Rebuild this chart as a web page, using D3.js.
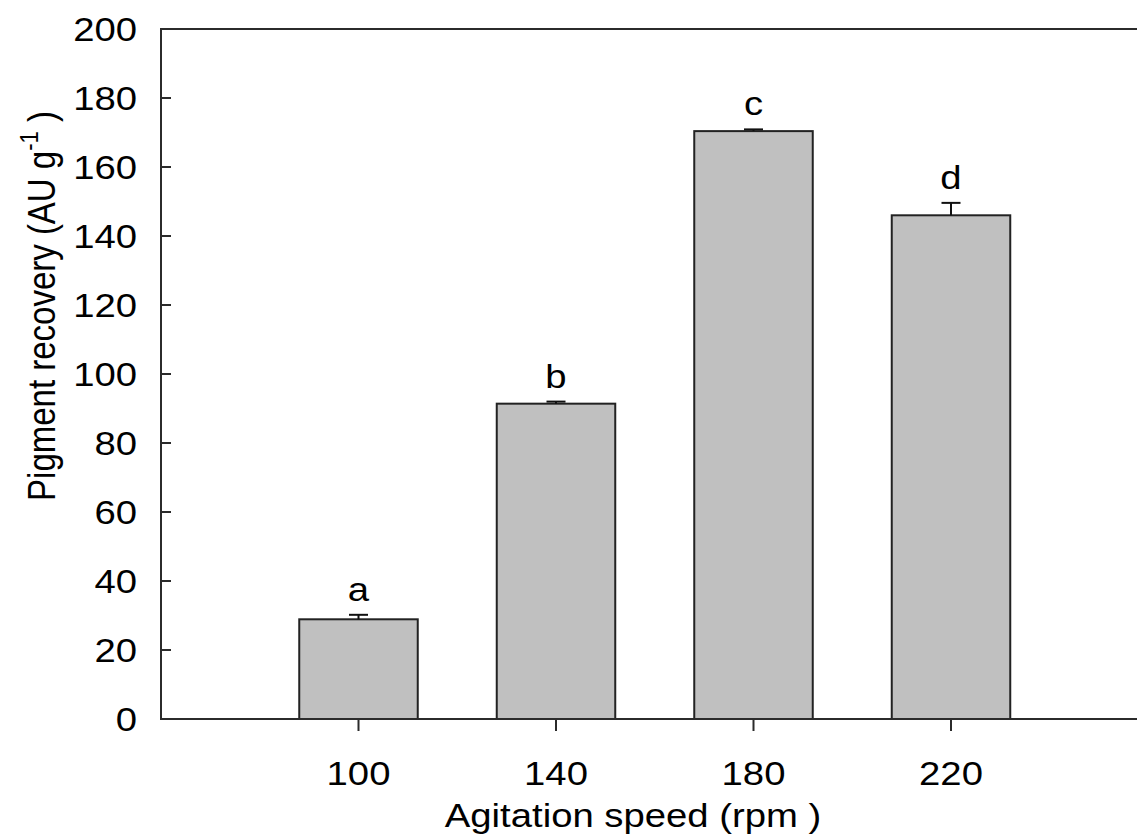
<!DOCTYPE html>
<html>
<head>
<meta charset="utf-8">
<script src="https://cdn.jsdelivr.net/npm/d3@7"></script>
<style>
  html, body { margin: 0; padding: 0; background: #fff; }
  svg { display: block; }
  text { font-family: "Liberation Sans", Arial, sans-serif; fill: #000; }
</style>
</head>
<body>
<svg id="chart" width="1137" height="834"></svg>
<script>
const speeds = [100, 140, 180, 220];
const recovery = [28.9, 91.4, 170.4, 146.0];
const errors = [1.3, 0.6, 0.5, 3.6];
const letters = ["a", "b", "c", "d"];
const yTicks = [0, 20, 40, 60, 80, 100, 120, 140, 160, 180, 200];
const xTicks = [100, 140, 180, 220];

(function () {
const W = 1137, H = 834;
const SX = 1.16;          // horizontal stretch of the original figure
const FS = 33;
const svg = d3.select("#chart");
svg.append("rect").attr("width", W).attr("height", H).attr("fill", "#fff");

const pLeft = 161, pTop = 29, pBottom = 719;
const x = d3.scaleLinear().domain([60, 260]).range([pLeft, 1148.5]);
const y = d3.scaleLinear().domain([0, 200]).range([pBottom, pTop]);
const barW = x(124) - x(100);
const axisColor = "#2b2b2b";

// bars
svg.append("g").selectAll("rect").data(speeds).join("rect")
  .attr("x", (d) => x(d) - barW / 2)
  .attr("y", (d, i) => y(recovery[i]))
  .attr("width", barW)
  .attr("height", (d, i) => y(0) - y(recovery[i]))
  .attr("fill", "#c0c0c0")
  .attr("stroke", "#222")
  .attr("stroke-width", 2);

// error bars (upper)
const eb = svg.append("g").attr("stroke", "#111").attr("stroke-width", 2);
speeds.forEach((d, i) => {
  eb.append("line").attr("x1", x(d)).attr("x2", x(d))
    .attr("y1", y(recovery[i])).attr("y2", y(recovery[i] + errors[i]));
  eb.append("line").attr("x1", x(d) - 9.5).attr("x2", x(d) + 9.5)
    .attr("y1", y(recovery[i] + errors[i])).attr("y2", y(recovery[i] + errors[i]));
});

// significance letters
speeds.forEach((d, i) => {
  svg.append("g")
    .attr("transform", `translate(${x(d)},${y(recovery[i] + errors[i]) - 14}) scale(${SX},1)`)
    .append("text").attr("text-anchor", "middle").attr("font-size", FS).text(letters[i]);
});

// axis frame
const ax = svg.append("g").attr("stroke", axisColor).attr("stroke-width", 2).attr("fill", "none");
ax.append("line").attr("x1", pLeft).attr("x2", W).attr("y1", pTop).attr("y2", pTop);
ax.append("line").attr("x1", pLeft).attr("x2", W).attr("y1", pBottom).attr("y2", pBottom);
ax.append("line").attr("x1", pLeft).attr("x2", pLeft).attr("y1", pTop - 1).attr("y2", pBottom + 1);

// y ticks (inward) and labels
yTicks.forEach((t) => {
  if (t !== 0 && t !== 200) {
    ax.append("line").attr("x1", pLeft).attr("x2", pLeft + 10).attr("y1", y(t)).attr("y2", y(t));
  }
  svg.append("g").attr("transform", `translate(137,${y(t)}) scale(${SX},1)`)
    .append("text").attr("text-anchor", "end").attr("dy", "0.36em")
    .attr("font-size", FS).text(t);
});

// x ticks (outward) and labels
xTicks.forEach((t) => {
  ax.append("line").attr("x1", x(t)).attr("x2", x(t)).attr("y1", pBottom).attr("y2", pBottom + 12);
  svg.append("g").attr("transform", `translate(${x(t)},785) scale(${SX},1)`)
    .append("text").attr("text-anchor", "middle").attr("font-size", FS).text(t);
});

// x title
svg.append("g").attr("transform", `translate(633,827) scale(${SX},1)`)
  .append("text").attr("text-anchor", "middle").attr("font-size", FS)
  .text("Agitation speed (rpm )");

// y title
const yt = svg.append("g").attr("transform", `translate(55,306) scale(${SX},1) rotate(-90)`)
  .append("text").attr("text-anchor", "middle").attr("font-size", FS);
yt.append("tspan").text("Pigment recovery (AU g");
yt.append("tspan").attr("font-size", 22).attr("dy", -15).text("-1");
yt.append("tspan").attr("dy", 15).text(" )");
})();
</script>
</body>
</html>
